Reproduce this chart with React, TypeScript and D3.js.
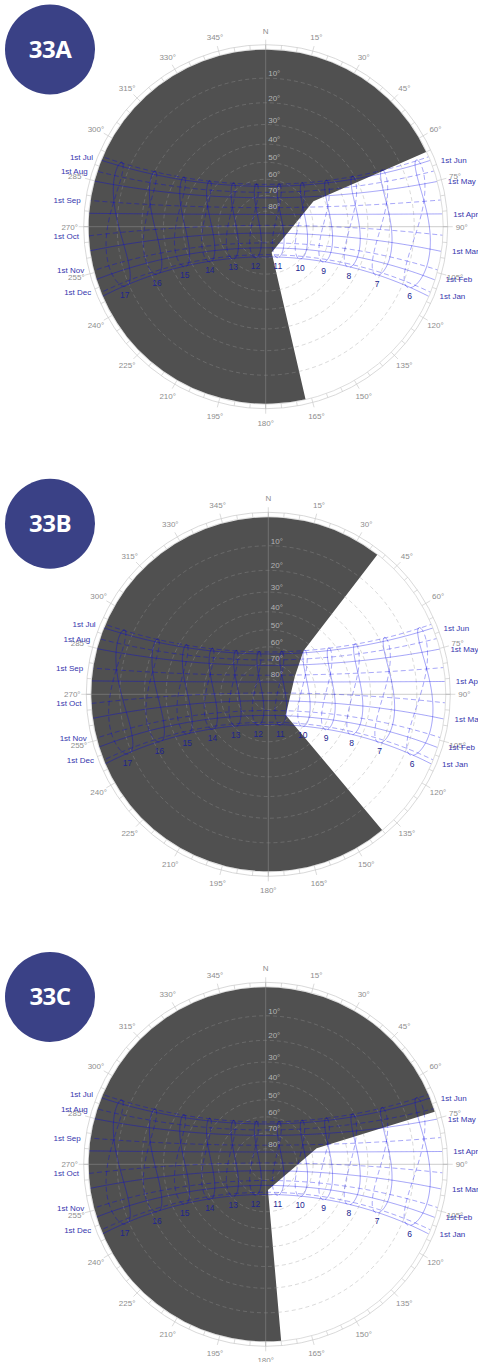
import React from 'react';
import * as d3 from 'd3';

// ---------------- data ----------------
const SITE_LATITUDE = -3.73;
const SITE_LONGITUDE = -38.52;
const SITE_UTC_OFFSET = -3;

const MONTHS = ['Jan', 'Feb', 'Mar', 'Apr', 'May', 'Jun', 'Jul', 'Aug', 'Sep', 'Oct', 'Nov', 'Dec'];
const MONTH_FIRST_DAY = [1, 32, 60, 91, 121, 152, 182, 213, 244, 274, 305, 335];
const HOURS = [6, 7, 8, 9, 10, 11, 12, 13, 14, 15, 16, 17];
const ELEVATIONS = [10, 20, 30, 40, 50, 60, 70, 80];
const AZIMUTHS = [0, 15, 30, 45, 60, 75, 90, 105, 120, 135, 150, 165, 180, 195, 210, 225, 240, 255, 270, 285, 300, 315, 330, 345];
const PANEL_NAMES = ['33A', '33B', '33C'];
// open-sky window of each panel: [azimuth, elevation] vertices, horizon to horizon
const OPENING_A = [[65, 0], [62, 56], [167, 73], [167, 0]];
const OPENING_B = [[38, 0], [39, 55], [56, 69.5], [140, 72.6], [140, 0]];
const OPENING_C = [[72.7, 0], [72.6, 56.4], [175, 73.4], [175, 0]];
const OPENINGS = [OPENING_A, OPENING_B, OPENING_C];

// ---------------- layout / style ----------------
const W = 478;
const H = 1362;
const R = 177;
const LAYOUT = [
  { cx: 265.7, cy: 226.7, bx: 50, by: 49.5 },
  { cx: 268.3, cy: 694.3, bx: 50, by: 523.7 },
  { cx: 265.7, cy: 1164.3, bx: 50, by: 997 },
];
const MASK_FILL = '#505050';
const SUN_LINE = 'rgba(0,0,235,0.4)';
const DATE_LABEL = '#3535ad';
const HOUR_LABEL = '#20248f';
const BADGE = '#3a4186';
const FONT = '"Liberation Sans", Arial, sans-serif';

const rad = Math.PI / 180;

function sunPosition(doy: number, clockHour: number) {
  const g = (2 * Math.PI / 365) * (doy - 1 + (clockHour - 12) / 24);
  const eq = 229.18 * (0.000075 + 0.001868 * Math.cos(g) - 0.032077 * Math.sin(g) - 0.014615 * Math.cos(2 * g) - 0.040849 * Math.sin(2 * g));
  const decl = 0.006918 - 0.399912 * Math.cos(g) + 0.070257 * Math.sin(g) - 0.006758 * Math.cos(2 * g) + 0.000907 * Math.sin(2 * g) - 0.002697 * Math.cos(3 * g) + 0.00148 * Math.sin(3 * g);
  const offset = eq + 4 * SITE_LONGITUDE - 60 * SITE_UTC_OFFSET;
  const tst = clockHour * 60 + offset;
  const ha = (tst / 4 - 180) * rad;
  const lat = SITE_LATITUDE * rad;
  const sinAlt = Math.sin(lat) * Math.sin(decl) + Math.cos(lat) * Math.cos(decl) * Math.cos(ha);
  const alt = Math.asin(Math.max(-1, Math.min(1, sinAlt)));
  const az = Math.atan2(Math.sin(ha), Math.cos(ha) * Math.sin(lat) - Math.tan(decl) * Math.cos(lat)) + Math.PI;
  return { az: az / rad, alt: alt / rad };
}

type Pt = { az: number; alt: number };

const dateLines = MONTH_FIRST_DAY.map((doy) =>
  d3.range(4.5, 19.5, 1 / 30).map((t) => sunPosition(doy, t))
);
const analemmas = HOURS.map((h) => ({
  first: d3.range(1, 183).map((d) => sunPosition(d, h)),
  second: d3.range(182, 367).map((d) => sunPosition(d, h)),
}));

function Panel({ index }: { index: number }) {
  const { cx, cy, bx, by } = LAYOUT[index];
  const rScale = d3.scaleLinear().domain([0, 1]).range([0, R]);
  const radiusOf = (alt: number) => rScale(Math.tan(((90 - alt) / 2) * rad));
  const project = (az: number, alt: number): [number, number] => {
    const r = radiusOf(alt);
    return [cx + r * Math.sin(az * rad), cy - r * Math.cos(az * rad)];
  };
  const line = d3
    .line<Pt>()
    .defined((d) => d.alt > -6)
    .x((d) => project(d.az, d.alt)[0])
    .y((d) => project(d.az, d.alt)[1]);

  // mask path
  const opening = OPENINGS[index];
  const p = d3.path();
  const first = project(opening[0][0], opening[0][1]);
  p.moveTo(first[0], first[1]);
  opening.slice(1).forEach(([a, e]) => {
    const q = project(a, e);
    p.lineTo(q[0], q[1]);
  });
  const azEnd = opening[opening.length - 1][0];
  const azStart = opening[0][0] + 360;
  p.arc(cx, cy, R, (azEnd - 90) * rad, (azStart - 90) * rad, false);
  p.closePath();

  const clipId = `horizon-clip-${index}`;

  const hourLabels = analemmas.map((a, i) => {
    const pts = [...a.first, ...a.second].filter((d) => d.alt > 0.5).map((d) => project(d.az, d.alt));
    const low = pts.reduce((m, q) => (q[1] > m[1] ? q : m), pts[0]);
    return { text: String(HOURS[i]), x: low[0], y: low[1] + 8.5 };
  });

  const dateLabels = dateLines.map((pts, i) => {
    const up = pts.filter((d) => d.alt >= 0);
    const morning = i < 6;
    const d = morning ? up[0] : up[up.length - 1];
    const q = project(d.az, 0);
    return { text: `1st ${MONTHS[i]}`, x: morning ? q[0] + 11 : q[0] - 10, y: q[1], anchor: morning ? 'start' : 'end' };
  });

  return (
    <g>
      <defs>
        <clipPath id={clipId}>
          <circle cx={cx} cy={cy} r={R} />
        </clipPath>
      </defs>
      {/* ring */}
      <circle cx={cx} cy={cy} r={R + 0.5} fill="none" stroke="#d4d4d4" strokeWidth={0.8} />
      <circle cx={cx} cy={cy} r={R + 5} fill="none" stroke="#cfcfcf" strokeWidth={0.8} />
      {d3.range(0, 360, 5).map((a) => {
        const major = a % 15 === 0;
        const r1 = R + 0.5;
        const r2 = major ? R + 10 : R + 5;
        return (
          <line
            key={a}
            x1={cx + r1 * Math.sin(a * rad)}
            y1={cy - r1 * Math.cos(a * rad)}
            x2={cx + r2 * Math.sin(a * rad)}
            y2={cy - r2 * Math.cos(a * rad)}
            stroke="#cccccc"
            strokeWidth={0.7}
          />
        );
      })}
      {/* mask */}
      <path d={p.toString()} fill={MASK_FILL} />
      {/* elevation circles */}
      {ELEVATIONS.map((e) => (
        <circle key={e} cx={cx} cy={cy} r={radiusOf(e)} fill="none" stroke="rgba(150,150,150,0.45)" strokeWidth={0.8} strokeDasharray="4,3" />
      ))}
      {/* crosshair */}
      <line x1={cx} y1={cy - R - 5} x2={cx} y2={cy + R + 5} stroke="rgba(150,150,150,0.6)" strokeWidth={0.8} />
      <line x1={cx - R - 5} y1={cy} x2={cx + R + 5} y2={cy} stroke="rgba(150,150,150,0.6)" strokeWidth={0.8} />
      {/* sun paths */}
      <g clipPath={`url(#${clipId})`} fill="none" stroke={SUN_LINE} strokeWidth={0.9}>
        {dateLines.map((pts, i) => (
          <path key={`d${i}`} d={line(pts) || ''} strokeDasharray={i < 6 ? undefined : '5,3'} />
        ))}
        {analemmas.map((a, i) => (
          <g key={`a${i}`}>
            <path d={line(a.first) || ''} />
            <path d={line(a.second) || ''} strokeDasharray="5,3" />
          </g>
        ))}
      </g>
      {/* elevation labels */}
      {ELEVATIONS.map((e) => (
        <text key={e} x={cx + 2.5} y={cy - radiusOf(e) - 2} fontSize={8} fill="#b4b4b4" fontFamily={FONT}>
          {`${e}°`}
        </text>
      ))}
      {/* azimuth labels */}
      {AZIMUTHS.map((a) => {
        const r = R + 19;
        return (
          <text key={a} x={cx + r * Math.sin(a * rad)} y={cy - r * Math.cos(a * rad)} dy="0.35em" textAnchor="middle" fontSize={8} fill="#8e8e8e" fontFamily={FONT}>
            {a === 0 ? 'N' : `${a}°`}
          </text>
        );
      })}
      {/* hour labels */}
      {hourLabels.map((l) => (
        <text key={l.text} x={l.x} y={l.y} dy="0.35em" textAnchor="middle" fontSize={8.5} fill={HOUR_LABEL} fontFamily={FONT}>
          {l.text}
        </text>
      ))}
      {/* date labels */}
      {dateLabels.map((l) => (
        <text key={l.text} x={l.x} y={l.y} dy="0.35em" textAnchor={l.anchor} fontSize={8} fill={DATE_LABEL} fontFamily={FONT}>
          {l.text}
        </text>
      ))}
      {/* badge */}
      <circle cx={bx} cy={by} r={45} fill={BADGE} />
      <text x={bx} y={by + 8.3} textAnchor="middle" fontSize={24} fontWeight={700} fill="#ffffff" fontFamily='"Open Sans", "Noto Sans", sans-serif' letterSpacing={-0.5}>
        {PANEL_NAMES[index]}
      </text>
    </g>
  );
}

export default function App() {
  return (
    <svg width={W} height={H} viewBox={`0 0 ${W} ${H}`} style={{ position: 'absolute', left: 0, top: 0, background: '#ffffff' }}>
      <rect width={W} height={H} fill="#ffffff" />
      {PANEL_NAMES.map((_, i) => (
        <Panel key={i} index={i} />
      ))}
    </svg>
  );
}
